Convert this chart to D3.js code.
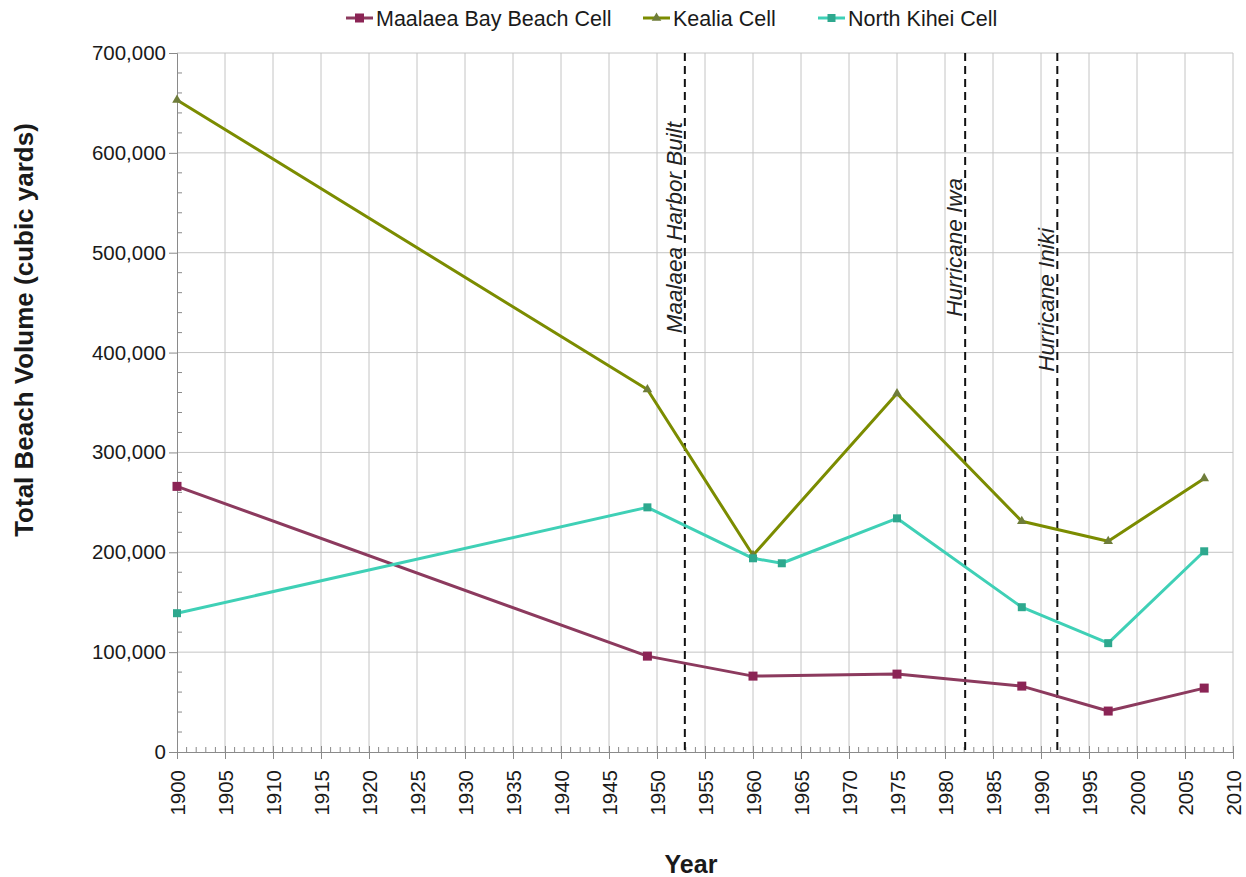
<!DOCTYPE html>
<html>
<head>
<meta charset="utf-8">
<script src="https://cdn.jsdelivr.net/npm/d3@7"></script>
<style>
  html, body { margin: 0; padding: 0; background: #fff; }
  svg { display: block; font-family: "Liberation Sans", Arial, sans-serif; }
</style>
</head>
<body>
<svg id="chart" width="1246" height="877"></svg>
<script>
// ---- Data ----
const seriesNames = ["Maalaea Bay Beach Cell", "Kealia Cell", "North Kihei Cell"];
const maalaeaYears = [1900, 1949, 1960, 1975, 1988, 1997, 2007];
const maalaeaValues = [266000, 96000, 76000, 78000, 66000, 41000, 64000];
const kealiaYears = [1900, 1949, 1960, 1975, 1988, 1997, 2007];
const kealiaValues = [653000, 363000, 197000, 359000, 231000, 211000, 274000];
const kiheiYears = [1900, 1949, 1960, 1963, 1975, 1988, 1997, 2007];
const kiheiValues = [139000, 245000, 194000, 189000, 234000, 145000, 109000, 201000];
const eventYears = [1952.9, 1982.1, 1991.7];
const eventLabels = ["Maalaea Harbor Built", "Hurricane Iwa", "Hurricane Iniki"];
const xTickYears = d3.range(1900, 2011, 5);
const yTickValues = d3.range(0, 700001, 100000);

// ---- Styles ----
const lineColors = ["#8c3a5e", "#7b8c00", "#3fd0b6"];
const markerColors = ["#8b2455", "#6f7d3a", "#2ea88e"];
const markerShapes = ["square", "triangle", "squareSmall"];

const svg = d3.select("#chart");
const pLeft = 177, pRight = 1233, pTop = 53, pBottom = 752;

const x = d3.scaleLinear().domain([1900, 2010]).range([pLeft, pRight]);
const y = d3.scaleLinear().domain([0, 700000]).range([pBottom, pTop]);

// Gridlines
const grid = svg.append("g");
grid.selectAll("line.vg").data(xTickYears.filter(d => d > 1900)).join("line")
  .attr("x1", d => x(d)).attr("x2", d => x(d)).attr("y1", pTop).attr("y2", pBottom)
  .attr("stroke", "#c4c4c4").attr("stroke-width", 1);
grid.selectAll("line.hg").data(yTickValues.filter(d => d > 0)).join("line")
  .attr("x1", pLeft).attr("x2", pRight).attr("y1", d => y(d)).attr("y2", d => y(d))
  .attr("stroke", "#c4c4c4").attr("stroke-width", 1);

// Y axis
const yAxis = d3.axisLeft(y).tickValues(yTickValues).tickFormat(d3.format(",")).tickSize(8).tickPadding(3);
const gy = svg.append("g").attr("transform", `translate(${pLeft},0)`).call(yAxis);
gy.select(".domain").attr("stroke", "#8a8a8a");
gy.selectAll(".tick line").attr("stroke", "#8a8a8a");
gy.selectAll(".tick text").attr("font-size", 20.5).attr("fill", "#1a1a1a").attr("font-family", "Liberation Sans, Arial, sans-serif");
// minor y ticks
const yMinor = d3.range(0, 700001, 20000).filter(d => d % 100000 !== 0);
svg.append("g").selectAll("line").data(yMinor).join("line")
  .attr("x1", pLeft).attr("x2", pLeft + 5).attr("y1", d => y(d)).attr("y2", d => y(d))
  .attr("stroke", "#8a8a8a");

// X axis
const xAxis = d3.axisBottom(x).tickValues(xTickYears).tickFormat(d3.format("d")).tickSize(7).tickPadding(4);
const gx = svg.append("g").attr("transform", `translate(0,${pBottom})`).call(xAxis);
gx.select(".domain").attr("stroke", "#8a8a8a");
gx.selectAll(".tick line").attr("stroke", "#8a8a8a").attr("y1", -6);
gx.selectAll(".tick text")
  .attr("font-size", 20.5).attr("fill", "#1a1a1a").attr("font-family", "Liberation Sans, Arial, sans-serif")
  .attr("transform", "rotate(-90)")
  .attr("text-anchor", "end").attr("dy", "0.35em").attr("x", -18).attr("y", 0);
const xMinor = d3.range(1900, 2011, 1).filter(d => d % 5 !== 0);
svg.append("g").selectAll("line").data(xMinor).join("line")
  .attr("x1", d => x(d)).attr("x2", d => x(d)).attr("y1", pBottom - 5).attr("y2", pBottom)
  .attr("stroke", "#8a8a8a");

// Event lines
const ev = svg.append("g");
eventYears.forEach((yr, i) => {
  ev.append("line")
    .attr("x1", x(yr)).attr("x2", x(yr)).attr("y1", pTop).attr("y2", pBottom)
    .attr("stroke", "#111").attr("stroke-width", 2).attr("stroke-dasharray", "8,5");
});
const labelTops = [122, 178, 228];
eventYears.forEach((yr, i) => {
  ev.append("text")
    .attr("transform", `translate(${x(yr) - 3},${labelTops[i]}) rotate(-90)`)
    .attr("text-anchor", "end")
    .attr("font-size", 22.5).attr("font-style", "italic").attr("fill", "#222")
    .text(eventLabels[i]);
});

// Series
const allSeries = [
  { years: maalaeaYears, values: maalaeaValues },
  { years: kealiaYears, values: kealiaValues },
  { years: kiheiYears, values: kiheiValues }
];
const line = d3.line().x(d => x(d[0])).y(d => y(d[1]));

function drawMarker(g, shape, cx, cy, color) {
  if (shape === "square") {
    g.append("rect").attr("x", cx - 4.5).attr("y", cy - 4.5).attr("width", 9).attr("height", 9).attr("fill", color);
  } else if (shape === "squareSmall") {
    g.append("rect").attr("x", cx - 4).attr("y", cy - 4).attr("width", 8).attr("height", 8).attr("fill", color);
  } else {
    g.append("path").attr("d", d3.symbol().type(d3.symbolTriangle).size(40)()).attr("transform", `translate(${cx},${cy})`).attr("fill", color);
  }
}

const sg = svg.append("g");
allSeries.forEach((s, i) => {
  const pts = s.years.map((yr, j) => [yr, s.values[j]]);
  sg.append("path").datum(pts).attr("d", line)
    .attr("fill", "none").attr("stroke", lineColors[i]).attr("stroke-width", 3).attr("stroke-linejoin", "round");
  const mg = sg.append("g");
  pts.forEach(p => drawMarker(mg, markerShapes[i], x(p[0]), y(p[1]), markerColors[i]));
});

// Legend
const legendX = [346, 643, 818];
const lg = svg.append("g");
seriesNames.forEach((name, i) => {
  const lx = legendX[i], ly = 18;
  lg.append("line").attr("x1", lx).attr("x2", lx + 27).attr("y1", ly).attr("y2", ly)
    .attr("stroke", lineColors[i]).attr("stroke-width", 3);
  drawMarker(lg, markerShapes[i], lx + 13.5, ly, markerColors[i]);
  lg.append("text").attr("x", lx + 30).attr("y", ly).attr("dy", "0.35em")
    .attr("font-size", 21.5).attr("fill", "#1a1a1a").text(name);
});

// Axis titles
svg.append("text")
  .attr("transform", `translate(33,330) rotate(-90)`)
  .attr("text-anchor", "middle").attr("font-size", 26).attr("font-weight", "bold").attr("fill", "#1a1a1a")
  .text("Total Beach Volume (cubic yards)");
svg.append("text")
  .attr("x", 691).attr("y", 873).attr("text-anchor", "middle")
  .attr("font-size", 25).attr("font-weight", "bold").attr("fill", "#1a1a1a")
  .text("Year");
</script>
</body>
</html>
